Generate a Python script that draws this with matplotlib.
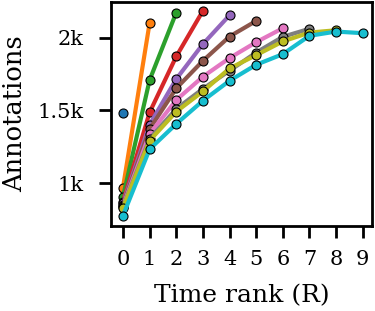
import matplotlib
matplotlib.use("Agg")
import matplotlib.pyplot as plt
from matplotlib.ticker import FuncFormatter

plt.rcParams['font.family'] = ['DejaVu Serif']

# annotations per time rank, one series per final rank R
series = [
    [1480],
    [970, 2100],
    [906, 1708, 2171],
    [872, 1486, 1870, 2183],
    [862, 1402, 1715, 1955, 2153],
    [852, 1372, 1651, 1840, 2007, 2114],
    [842, 1338, 1571, 1731, 1859, 1968, 2064],
    [836, 1305, 1510, 1648, 1772, 1897, 2005, 2060],
    [831, 1292, 1491, 1630, 1788, 1879, 1973, 2034, 2050],
    [777, 1233, 1407, 1566, 1703, 1813, 1886, 2012, 2041, 2030],
]
ranks = list(range(10))
colors = plt.rcParams['axes.prop_cycle'].by_key()['color']

fig, ax = plt.subplots(figsize=(3.75, 3.11), dpi=100)
for i, vals in enumerate(series):
    ax.plot(ranks[:len(vals)], vals, color=colors[i], lw=3, marker='o',
            ms=6.5, mec='black', mew=0.8)

ax.set_xlim(-0.45, 9.35)
ax.set_ylim(705, 2245)
ax.set_xticks(ranks)
ax.set_yticks([1000, 1500, 2000])
ax.yaxis.set_major_formatter(FuncFormatter(lambda v, p: f"{v/1000:g}k"))
ax.set_xlabel("Time rank (R)", fontsize=18, labelpad=10.5)
ax.set_ylabel("Annotations", fontsize=18.5, labelpad=7.5)
ax.tick_params(labelsize=15, width=2, length=8.5)
ax.tick_params(axis='x', pad=9)
ax.tick_params(axis='y', pad=11)
for s in ax.spines.values():
    s.set_linewidth(2)

fig.subplots_adjust(left=0.296, right=0.992, top=0.994, bottom=0.273)
fig.savefig("out.png")
